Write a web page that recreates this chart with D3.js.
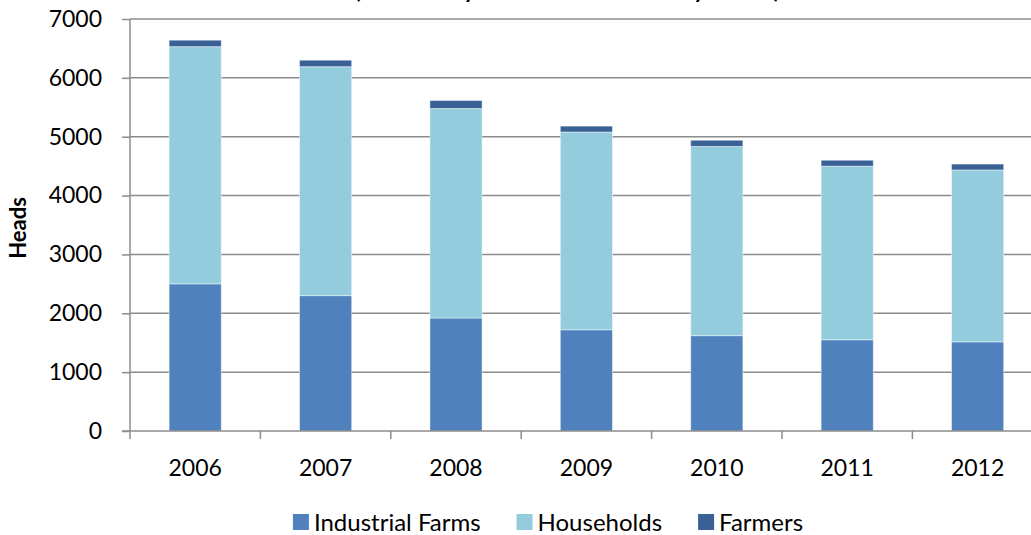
<!DOCTYPE html>
<html>
<head>
<meta charset="utf-8">
<script src="https://cdn.jsdelivr.net/npm/d3@7"></script>
<style>
    body { margin: 0; background: #fff; overflow: hidden; }
    text { font-family: Lato, "Open Sans", sans-serif; fill: #000; }
    .gridLine { stroke: #8c8c8c; stroke-width: 1.5; }
    .axisLine { stroke: #8c8c8c; stroke-width: 1.5; }
</style>
</head>
<body>
<script>
    //chart data
    var years = ["2006", "2007", "2008", "2009", "2010", "2011", "2012"];
    var seriesNames = ["Industrial Farms", "Households", "Farmers"];
    var industrialFarms = [2500, 2300, 1920, 1720, 1620, 1550, 1515];
    var households = [4030, 3890, 3560, 3360, 3215, 2950, 2920];
    var farmers = [110, 110, 135, 100, 105, 100, 100];
    var yTicks = [0, 1000, 2000, 3000, 4000, 5000, 6000, 7000];
    var colors = ["#4f81bd", "#93cddd", "#3a6195"];

(function(){
    //frame dimensions
    var width = 1031,
        height = 535,
        plotLeft = 130,
        step = 130.4,
        plotTop = 19,
        plotBottom = 431;

    var svg = d3.select("body")
        .append("svg")
        .attr("width", width)
        .attr("height", height);

    //build a table for the stack layout
    var table = years.map(function(y, i){
        return { year: y, "Industrial Farms": industrialFarms[i], "Households": households[i], "Farmers": farmers[i] };
    });
    var stacked = d3.stack().keys(seriesNames)(table);

    var x = d3.scaleBand()
        .domain(years)
        .range([plotLeft, plotLeft + step * years.length])
        .paddingInner(0.6)
        .paddingOuter(0.3);

    var y = d3.scaleLinear()
        .domain([0, 7000])
        .range([plotBottom, plotTop]);

    //horizontal gridlines
    svg.selectAll(".gridLine")
        .data(yTicks.slice(1))
        .enter()
        .append("line")
        .attr("class", "gridLine")
        .attr("x1", plotLeft)
        .attr("x2", width)
        .attr("y1", function(d){ return y(d); })
        .attr("y2", function(d){ return y(d); });

    //stacked bars
    var layers = svg.selectAll(".layer")
        .data(stacked)
        .enter()
        .append("g")
        .attr("class", "layer")
        .style("fill", function(d, i){ return colors[i]; });

    layers.selectAll("rect")
        .data(function(d){ return d; })
        .enter()
        .append("rect")
        .attr("x", function(d){ return x(d.data.year); })
        .attr("width", x.bandwidth())
        .attr("y", function(d){ return y(d[1]); })
        .attr("height", function(d){ return y(d[0]) - y(d[1]); })
        .attr("stroke", "rgba(255,255,255,0.45)")
        .attr("stroke-width", 1);

    //y axis
    var yAxis = d3.axisLeft(y)
        .tickValues(yTicks)
        .tickSize(8)
        .tickPadding(20)
        .tickFormat(d3.format("d"));

    var yAxisG = svg.append("g")
        .attr("transform", "translate(" + plotLeft + ",0)")
        .call(yAxis);
    yAxisG.select(".domain").remove();
    yAxisG.selectAll(".tick line").attr("class", "axisLine");
    yAxisG.selectAll("text")
        .style("font-size", "23px")
        .style("font-family", "Lato, sans-serif")
        .attr("fill", "#000");
    svg.append("line")
        .attr("class", "axisLine")
        .attr("x1", plotLeft).attr("x2", plotLeft)
        .attr("y1", plotTop).attr("y2", plotBottom);

    //x axis: ticks sit at band boundaries
    var xAxisG = svg.append("g");
    xAxisG.append("line")
        .attr("class", "axisLine")
        .attr("x1", plotLeft - 8).attr("x2", width)
        .attr("y1", plotBottom).attr("y2", plotBottom);
    xAxisG.selectAll(".xTick")
        .data(d3.range(years.length + 1))
        .enter()
        .append("line")
        .attr("class", "axisLine")
        .attr("x1", function(i){ return plotLeft + i * x.step(); })
        .attr("x2", function(i){ return plotLeft + i * x.step(); })
        .attr("y1", plotBottom)
        .attr("y2", plotBottom + 8);
    xAxisG.selectAll(".xLabel")
        .data(years)
        .enter()
        .append("text")
        .attr("x", function(d){ return x(d) + x.bandwidth() / 2; })
        .attr("y", 476)
        .attr("text-anchor", "middle")
        .style("font-size", "23px")
        .text(function(d){ return d; });

    //y axis title
    svg.append("text")
        .attr("transform", "translate(26,228) rotate(-90)")
        .attr("text-anchor", "middle")
        .style("font-size", "22px")
        .style("font-weight", "bold")
        .text("Heads");

    //chart title, cut off at the top edge as in the picture
    svg.append("text")
        .attr("x", 780)
        .attr("y", -2)
        .attr("text-anchor", "end")
        .style("font-size", "23px")
        .style("font-weight", "bold")
        .text("Cattle (in heads by all holders of farms by sector)");

    //legend
    var legend = svg.append("g").attr("class", "legend");
    var lx = 0;
    seriesNames.forEach(function(name, i){
        var item = legend.append("g").attr("transform", "translate(" + lx + ",0)");
        item.append("rect")
            .attr("x", 0)
            .attr("y", 514)
            .attr("width", 16)
            .attr("height", 16)
            .style("fill", colors[i]);
        var t = item.append("text")
            .attr("x", 21)
            .attr("y", 531)
            .style("font-size", "24px")
            .text(name);
        lx += 21 + t.node().getComputedTextLength() + 36;
    });
    var legendWidth = lx - 36;
    legend.attr("transform", "translate(" + (548 - legendWidth / 2) + ",0)");
})();
</script>
</body>
</html>
